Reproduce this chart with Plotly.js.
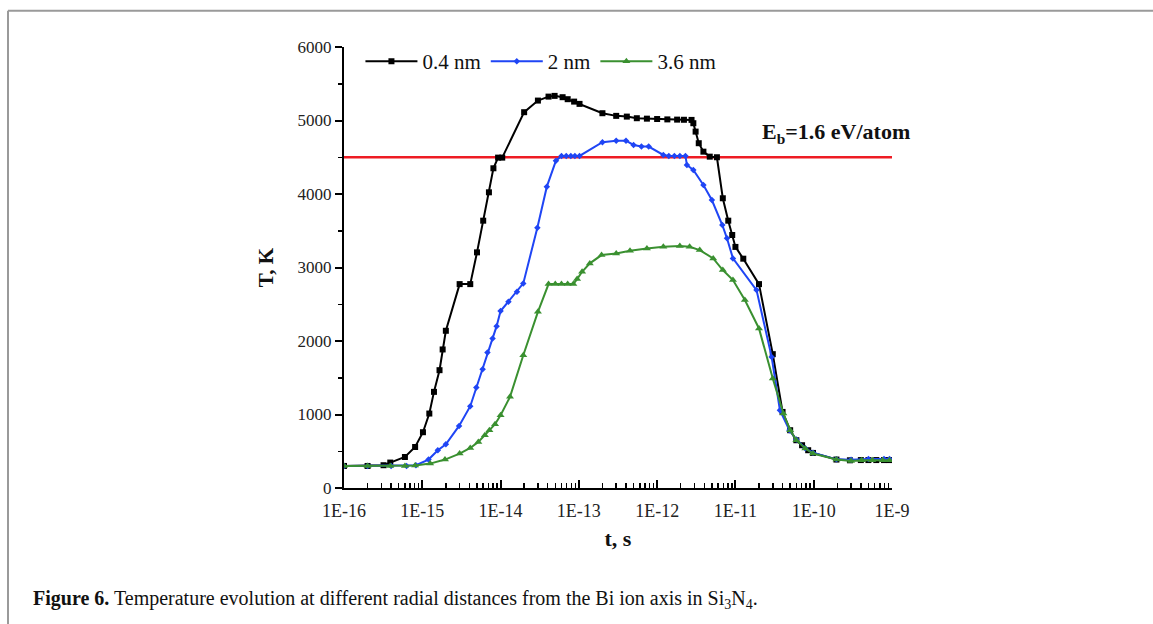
<!DOCTYPE html>
<html>
<head>
<meta charset="utf-8">
<script src="https://cdn.plot.ly/plotly-3.0.1.min.js"></script>
<style>
  html, body { margin: 0; padding: 0; background: #ffffff; overflow: hidden; }
  #chart { width: 1153px; height: 624px; }
</style>
</head>
<body>
<div id="chart"></div>
<script>
// ---- Data (time in seconds, temperature in K) ----
const seriesNames = ["0.4 nm", "2 nm", "3.6 nm"];

const t_04 = [1.0e-16, 2.0e-16, 3.2e-16, 3.9e-16, 6.0e-16, 8.1e-16, 1.02e-15, 1.23e-15, 1.41e-15, 1.66e-15,
  1.82e-15, 2.0e-15, 3.0e-15, 4.1e-15, 5.0e-15, 6.0e-15, 7.1e-15, 8.1e-15, 9.3e-15, 1.05e-14,
  2.0e-14, 3.0e-14, 4.1e-14, 4.9e-14, 6.2e-14, 7.2e-14, 8.7e-14, 1.02e-13, 2.0e-13, 3.0e-13,
  4.1e-13, 5.5e-13, 7.4e-13, 1.0e-12, 1.35e-12, 1.8e-12, 2.2e-12, 2.75e-12, 2.9e-12, 3.1e-12,
  3.4e-12, 3.9e-12, 4.7e-12, 5.8e-12, 6.9e-12, 8.1e-12, 9.1e-12, 1.0e-11, 1.26e-11, 2.0e-11,
  3.0e-11, 4.0e-11, 5.0e-11, 6.0e-11, 7.1e-11, 8.5e-11, 9.8e-11, 1.95e-10, 2.9e-10, 4.0e-10,
  5.0e-10, 6.3e-10, 7.9e-10, 9.3e-10];
const T_04 = [300, 300, 310, 346, 422, 558, 759, 1013, 1308, 1603,
  1885, 2139, 2774, 2774, 3206, 3637, 4023, 4350, 4495, 4495,
  5113, 5271, 5325, 5335, 5317, 5290, 5257, 5226, 5099, 5063,
  5053, 5031, 5025, 5020, 5015, 5012, 5010, 5008, 4963, 4849,
  4691, 4576, 4508, 4500, 3942, 3637, 3442, 3280, 3120, 2774,
  1821, 1035, 786, 650, 582, 514, 477, 387, 377, 380,
  380, 380, 380, 380];

const t_2 = [1.0e-16, 2.0e-16, 4.0e-16, 6.3e-16, 8.3e-16, 1.2e-15, 1.58e-15, 2.0e-15, 2.95e-15, 4.1e-15,
  4.9e-15, 5.9e-15, 6.8e-15, 7.9e-15, 8.9e-15, 1.0e-14, 1.26e-14, 1.62e-14, 1.95e-14, 2.95e-14,
  3.9e-14, 5.1e-14, 6.0e-14, 6.9e-14, 7.9e-14, 8.9e-14, 1.02e-13, 2.0e-13, 3.0e-13, 4.0e-13,
  5.0e-13, 6.3e-13, 7.8e-13, 1.2e-12, 1.41e-12, 1.66e-12, 1.95e-12, 2.3e-12, 2.4e-12, 2.9e-12,
  3.9e-12, 5.0e-12, 6.8e-12, 7.8e-12, 9.3e-12, 1.86e-11, 2.9e-11, 3.7e-11, 4.9e-11, 6.0e-11,
  7.8e-11, 9.8e-11, 1.95e-10, 3.0e-10, 5.0e-10, 7.9e-10, 9.3e-10];
const T_2 = [300, 300, 300, 300, 310, 387, 513, 595, 845, 1113,
  1367, 1617, 1844, 2035, 2202, 2407, 2533, 2670, 2784, 3541,
  4100, 4454, 4518, 4518, 4518, 4518, 4518, 4704, 4726, 4726,
  4667, 4645, 4645, 4531, 4518, 4518, 4518, 4518, 4395, 4327,
  4123, 3918, 3578, 3397, 3124, 2693, 1784, 1058, 786, 660,
  540, 480, 390, 385, 395, 395, 395];

const t_36 = [1.0e-16, 2.0e-16, 3.9e-16, 6.0e-16, 8.1e-16, 1.26e-15, 1.95e-15, 3.0e-15, 4.1e-15, 5.2e-15,
  6.3e-15, 7.2e-15, 8.5e-15, 1.0e-14, 1.32e-14, 1.95e-14, 3.0e-14, 4.1e-14, 5.0e-14, 6.0e-14,
  7.2e-14, 8.5e-14, 9.5e-14, 1.1e-13, 1.38e-13, 1.95e-13, 3.0e-13, 4.5e-13, 7.4e-13, 1.2e-12,
  1.95e-12, 2.6e-12, 3.5e-12, 5.2e-12, 6.9e-12, 9.3e-12, 1.32e-11, 2.0e-11, 3.0e-11, 4.1e-11,
  5.0e-11, 6.0e-11, 7.8e-11, 9.8e-11, 1.95e-10, 3.0e-10, 4.1e-10, 5.6e-10, 7.6e-10, 9.3e-10];
const T_36 = [300, 300, 300, 300, 305, 332, 387, 468, 545, 627,
  718, 786, 868, 990, 1240, 1807, 2397, 2774, 2774, 2774,
  2774, 2774, 2842, 2942, 3056, 3169, 3192, 3228, 3260, 3282,
  3292, 3282, 3237, 3124, 2965, 2829, 2557, 2171, 1490, 1013,
  786, 650, 537, 469, 387, 368, 377, 377, 377, 377];

// Threshold line E_b = 1.6 eV/atom
const threshT = [1.0e-16, 1.0e-9];
const threshK = [4500, 4500];
const threshLabel = "<b>E<sub>b</sub>=1.6 eV/atom</b>";

// Axis ticks
const xTickVals = [1e-16, 1e-15, 1e-14, 1e-13, 1e-12, 1e-11, 1e-10, 1e-9];
const xTickText = ["1E-16", "1E-15", "1E-14", "1E-13", "1E-12", "1E-11", "1E-10", "1E-9"];

const xTitle = "<b>t, s</b>";
const yTitle = "<b>T, K</b>";
const caption = "<b>Figure 6.</b> Temperature evolution at different radial distances from the Bi ion axis in Si<sub>3</sub>N<sub>4</sub>.";

// minor tick positions (2..9 within each decade)
const xMinor = [];
for (let i = 0; i < xTickVals.length - 1; i++) {
  for (let k = 2; k <= 9; k++) xMinor.push(k * xTickVals[i]);
}

const serif = "Liberation Serif, Times New Roman, serif";

const traces = [
  {x: threshT, y: threshK, mode: "lines", line: {color: "#ee1c24", width: 2.5},
   showlegend: false, hoverinfo: "skip"},
  {x: t_04, y: T_04, name: seriesNames[0], mode: "lines+markers",
   line: {color: "#000000", width: 2}, marker: {symbol: "square", size: 6, color: "#000000"}},
  {x: t_2, y: T_2, name: seriesNames[1], mode: "lines+markers",
   line: {color: "#1f45f5", width: 2}, marker: {symbol: "diamond", size: 5, color: "#1f45f5"}},
  {x: t_36, y: T_36, name: seriesNames[2], mode: "lines+markers",
   line: {color: "#3a9030", width: 2}, marker: {symbol: "triangle-up", size: 7, color: "#3a9030"}}
];

const layout = {
  width: 1153, height: 624, autosize: false,
  margin: {l: 344, r: 261, t: 47, b: 136, pad: 0},
  paper_bgcolor: "#ffffff", plot_bgcolor: "#ffffff",
  font: {family: serif, color: "#111111"},
  showlegend: true,
  legend: {
    orientation: "h", x: 0.03, y: 0.967, xanchor: "left", yanchor: "middle",
    font: {family: serif, size: 21, color: "#111111"},
    bgcolor: "rgba(0,0,0,0)", itemwidth: 52, traceorder: "normal"
  },
  xaxis: {
    type: "log", range: [-16, -9], autorange: false,
    tickmode: "array", tickvals: xTickVals, ticktext: xTickText,
    ticks: "inside", ticklen: 8, tickwidth: 2, tickcolor: "#000",
    minor: {tickmode: "array", tickvals: xMinor, ticks: "inside", ticklen: 5, tickwidth: 1.5, tickcolor: "#000", showgrid: false},
    showline: true, linecolor: "#000", linewidth: 2,
    showgrid: false, zeroline: false, automargin: false,
    ticklabelstandoff: 5,
    tickfont: {family: serif, size: 18, color: "#222"},
    title: {text: xTitle, font: {family: serif, size: 22, color: "#111"}, standoff: 11}
  },
  yaxis: {
    range: [0, 6000], autorange: false, dtick: 1000, tick0: 0, tickformat: "d",
    ticks: "outside", ticklen: 7, tickwidth: 2, tickcolor: "#000",
    minor: {dtick: 500, ticks: "outside", ticklen: 4, tickwidth: 1.5, tickcolor: "#000", showgrid: false},
    showline: true, linecolor: "#000", linewidth: 2,
    showgrid: false, zeroline: false, automargin: false,
    tickfont: {family: serif, size: 17, color: "#222"},
    title: {text: yTitle, font: {family: serif, size: 21, color: "#111"}, standoff: 18}
  },
  annotations: [
    {text: threshLabel, xref: "paper", yref: "paper", x: 0.760, y: 0.806,
     xanchor: "left", yanchor: "middle", showarrow: false,
     font: {family: serif, size: 22, color: "#111"}},
    {text: caption, xref: "paper", yref: "paper", x: (31 - 344) / 548, y: -0.253,
     xanchor: "left", yanchor: "middle", showarrow: false,
     font: {family: serif, size: 20, color: "#111"}}
  ],
  shapes: [
    {type: "line", xref: "paper", yref: "paper", x0: (8 - 344) / 548, x1: 1.6,
     y0: (487.7 - 11) / 440.4, y1: (487.7 - 11) / 440.4, line: {color: "#9a9a9a", width: 2}},
    {type: "line", xref: "paper", yref: "paper", x0: (8 - 344) / 548, x1: (8 - 344) / 548,
     y0: (487.7 - 11) / 440.4, y1: -0.5, line: {color: "#9a9a9a", width: 2}}
  ]
};

Plotly.newPlot("chart", traces, layout, {displayModeBar: false, staticPlot: true});
</script>
</body>
</html>
